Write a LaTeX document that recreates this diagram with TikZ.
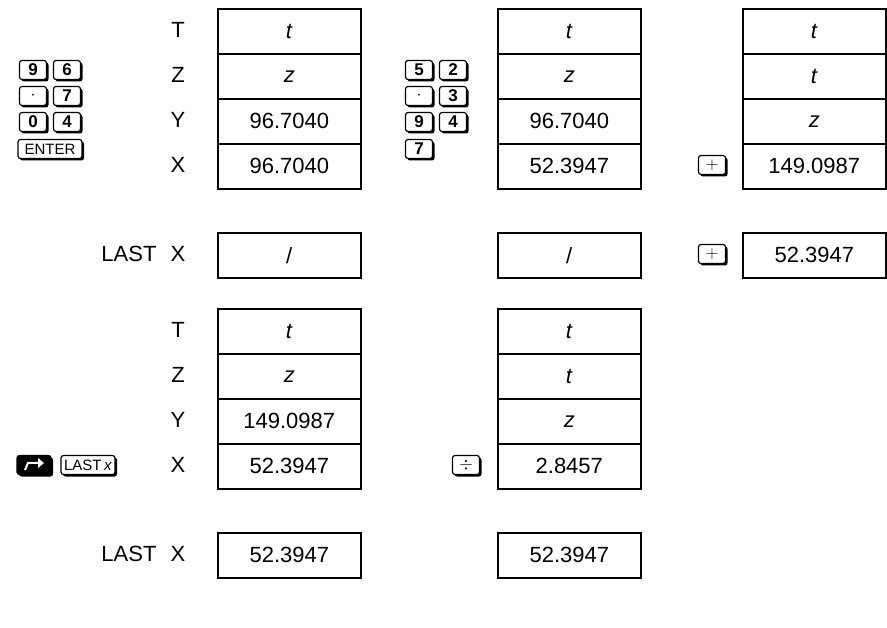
\documentclass[tikz,border=0pt]{standalone}
\usepackage{fontspec}
\setmainfont{Liberation Sans}
\usetikzlibrary{shadows}
\begin{document}
\begin{tikzpicture}[x=1pt,y=-1pt,
  reg/.style={draw,line width=1.6pt,minimum width=143pt,minimum height=45pt,inner sep=0pt,font=\fontsize{22}{22}\selectfont,anchor=north west},
  lab/.style={font=\fontsize{22}{22}\selectfont},
  keycap/.style={draw,line width=1.2pt,fill=white,rounded corners=2.5pt,minimum width=27pt,minimum height=19pt,inner sep=0.5pt,font=\fontsize{17}{17}\selectfont\bfseries,
    drop shadow={shadow xshift=2pt,shadow yshift=-2pt,fill=black,opacity=1}},
  wkey/.style={keycap,minimum width=64pt,font=\fontsize{15}{15}\selectfont},
  skey/.style={keycap,fill=black,text=white}]
\useasboundingbox (0,0) rectangle (887,628);
% top stacks
\foreach \c/\x/\T/\Z/\Y/\X in {a/217/\textit{t}/\textit{z}/96.7040/96.7040, b/497/\textit{t}/\textit{z}/96.7040/52.3947, c/742/\textit{t}/\textit{t}/\textit{z}/149.0987}{
  \node[reg] (\c T) at (\x,8) {\T};
  \node[reg] (\c Z) at (\x,53) {\Z};
  \node[reg] (\c Y) at (\x,98) {\Y};
  \node[reg] (\c X) at (\x,143) {\X};
}
\node[reg] (aL) at (217,232) {/};
\node[reg] (bL) at (497,232) {/};
\node[reg] (cL) at (742,232) {52.3947};
% bottom stacks
\foreach \c/\x/\T/\Z/\Y/\X in {d/217/\textit{t}/\textit{z}/149.0987/52.3947, e/497/\textit{t}/\textit{t}/\textit{z}/2.8457}{
  \node[reg] (\c T) at (\x,308) {\T};
  \node[reg] (\c Z) at (\x,353) {\Z};
  \node[reg] (\c Y) at (\x,398) {\Y};
  \node[reg] (\c X) at (\x,443) {\X};
}
\node[reg] (dL) at (217,532) {52.3947};
\node[reg] (eL) at (497,532) {52.3947};
% labels
\foreach \n/\t/\y in {l1/T/30,l2/Z/75,l3/Y/120,l4/X/165,l5/X/254,l6/T/330,l7/Z/375,l8/Y/420,l9/X/465,l10/X/554}
  \node[lab] (\n) at (178,\y) {\t};
\node[lab,anchor=east] (last1) at (160,254) {LAST};
\node[lab,anchor=east] (last2) at (160,554) {LAST};
% keys column 1
\node[keycap] (k9) at (33,70) {9};
\node[keycap] (k6) at (67,70) {6};
\node[keycap] (kd1) at (33,96) {$\cdot$};
\node[keycap] (k7) at (67,96) {7};
\node[keycap] (k0) at (33,122) {0};
\node[keycap] (k4) at (67,122) {4};
\node[wkey] (ken) at (50,149) {ENTER};
% keys column 2
\node[keycap] (k5) at (419,70) {5};
\node[keycap] (k2) at (453,70) {2};
\node[keycap] (kd2) at (419,96) {$\cdot$};
\node[keycap] (k3) at (453,96) {3};
\node[keycap] (k9b) at (419,122) {9};
\node[keycap] (k4b) at (453,122) {4};
\node[keycap] (k7b) at (419,149) {7};
% plus keys
\node[keycap,font=\fontsize{19}{19}\selectfont] (kp1) at (712,165) {$+$};
\node[keycap,font=\fontsize{19}{19}\selectfont] (kp2) at (712,254) {$+$};
\node[keycap,font=\fontsize{19}{19}\selectfont] (kdiv) at (466,465) {$\div$};
% shift and LASTx
\node[skey,minimum width=34pt] (ksh) at (34,465) {};
\draw[white,line width=2pt] ([xshift=-9pt,yshift=-5pt]ksh.center) -- ([xshift=-6pt,yshift=2pt]ksh.center) -- ([xshift=6pt,yshift=2pt]ksh.center);
\fill[white] ([xshift=10pt,yshift=2pt]ksh.center) -- ([xshift=4pt,yshift=-3pt]ksh.center) -- ([xshift=4pt,yshift=7pt]ksh.center) -- cycle;
\node[wkey,minimum width=54pt,font=\fontsize{15}{15}\selectfont] (klx) at (88,465) {LAST\,\textit{x}};
\end{tikzpicture}
\end{document}
